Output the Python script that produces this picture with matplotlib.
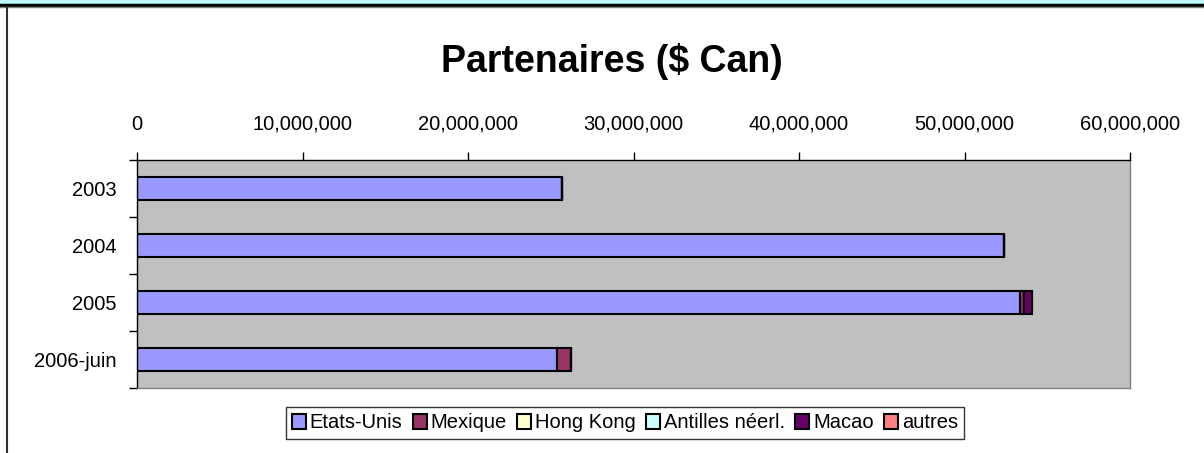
import numpy as np
import matplotlib
matplotlib.use("Agg")
import matplotlib.pyplot as plt
from matplotlib.ticker import FuncFormatter, FixedLocator

plt.rcParams['font.family'] = ['Liberation Sans', 'DejaVu Sans']

# data
years = ["2003", "2004", "2005", "2006-juin"]
partners = ["Etats-Unis", "Mexique", "Hong Kong", "Antilles néerl.", "Macao", "autres"]
etats_unis = [25680000, 52400000, 53350000, 25400000]
mexique = [0, 0, 250000, 800000]
hong_kong = [0, 0, 0, 0]
antilles = [0, 0, 0, 0]
macao = [0, 0, 450000, 0]
autres = [0, 0, 0, 0]
colors = ["#9999FF", "#993366", "#FFFFCC", "#CCFFFF", "#660066", "#FF8080"]

series = [etats_unis, mexique, hong_kong, antilles, macao, autres]

fig = plt.figure(figsize=(12.04, 4.53), dpi=100)

# frame bits of the surrounding sheet
fig.patches.append(plt.Rectangle((0, 1 - 3/453), 1, 3/453, transform=fig.transFigure,
                                 color="#BFF7F7", zorder=0))
fig.add_artist(plt.Line2D([0, 1], [1 - 4.5/453, 1 - 4.5/453], transform=fig.transFigure,
                          color="black", lw=2.5))
fig.add_artist(plt.Line2D([0, 1], [1 - 6.5/453, 1 - 6.5/453], transform=fig.transFigure,
                          color="#808080", lw=1))
fig.add_artist(plt.Line2D([6.5/1204, 6.5/1204], [0, 1 - 7/453], transform=fig.transFigure,
                          color="#303030", lw=1.5))

ax = fig.add_axes([137/1204, 1 - 388/453, (1130-137)/1204, (388-160)/453])
ax.set_facecolor("#C0C0C0")

y = np.arange(len(years))
left = np.zeros(len(years))
for name, vals, c in zip(partners, series, colors):
    vals = np.array(vals, dtype=float)
    ax.barh(y, vals, left=left, height=0.4, color=c, edgecolor="black",
            linewidth=1.5, label=name)
    left += vals

ax.set_xlim(0, 60000000)
ax.set_ylim(len(years) - 0.5, -0.5)
ax.xaxis.tick_top()
ax.xaxis.set_major_locator(FixedLocator(np.arange(0, 60000001, 10000000)))
ax.xaxis.set_major_formatter(FuncFormatter(lambda v, p: f"{int(v):,}"))
ax.set_yticks(y)
ax.set_yticklabels(years)
ax.yaxis.set_minor_locator(FixedLocator(np.arange(-0.5, len(years), 1)))
ax.tick_params(axis="y", which="major", length=0, labelsize=14.5, pad=15)
ax.tick_params(axis="y", which="minor", length=6, width=1, direction="out")
ax.tick_params(axis="x", length=6, width=1, direction="out", labelsize=14.5, pad=13)

for s in ["bottom", "right"]:
    ax.spines[s].set_color("#808080")
    ax.spines[s].set_linewidth(1)
for s in ["left", "top"]:
    ax.spines[s].set_color("black")
    ax.spines[s].set_linewidth(1)

fig.text(612/1204, 1 - 62/453, "Partenaires ($ Can)", ha="center", va="center",
         fontsize=27, fontweight="bold")

leg = fig.legend(loc="center", bbox_to_anchor=(625/1204, 1 - 423/453), ncol=6,
                 frameon=True, fancybox=False, edgecolor="black", fontsize=14.5,
                 handlelength=0.7, handleheight=0.7, handletextpad=0.2,
                 columnspacing=0.5, borderpad=0.3, borderaxespad=0)
leg.get_frame().set_linewidth(1)
for h in leg.legend_handles:
    h.set_linewidth(1.5)

fig.savefig("out.png", dpi=100)
